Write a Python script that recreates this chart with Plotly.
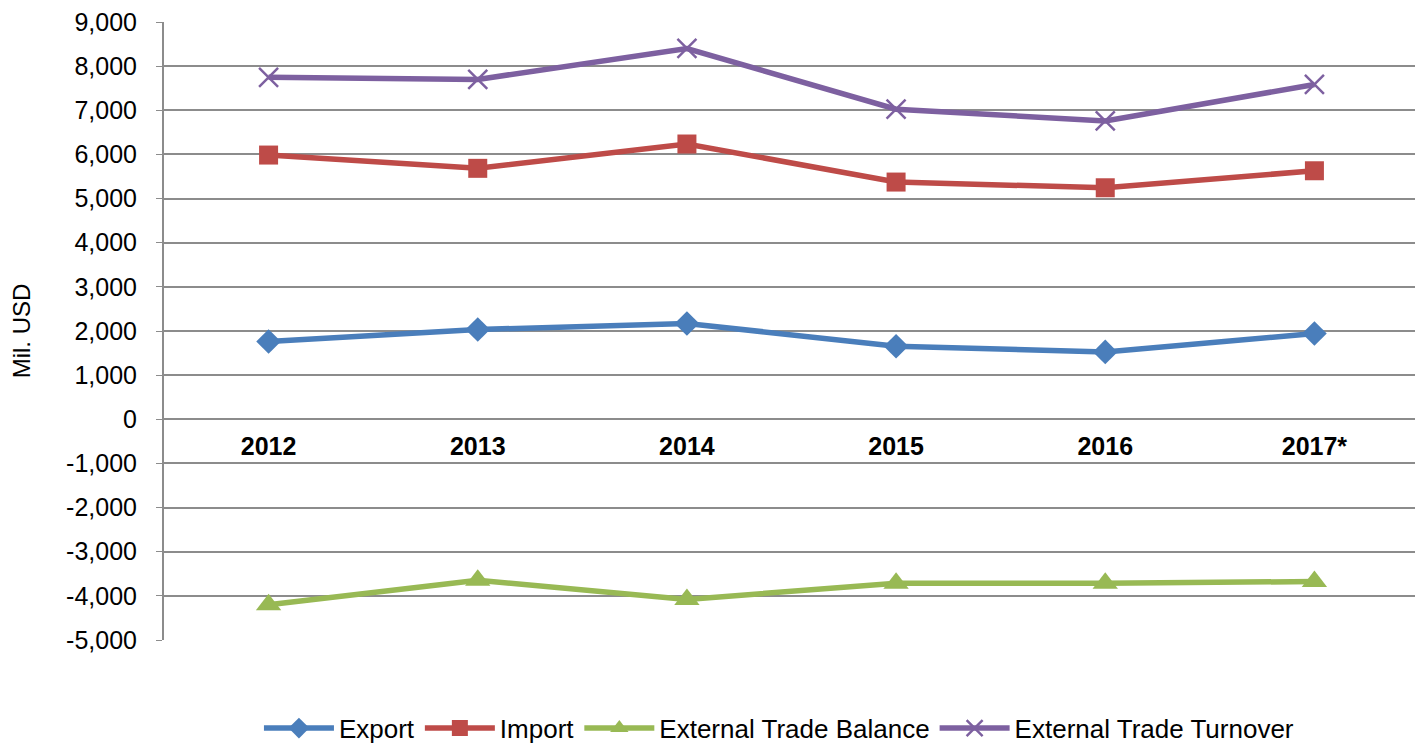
import plotly.graph_objects as go

years = ["2012", "2013", "2014", "2015", "2016", "2017*"]
export_vals = [1762, 2034, 2170, 1655, 1526, 1943]
import_vals = [5986, 5685, 6236, 5374, 5245, 5630]
balance_vals = [-4200, -3645, -4080, -3715, -3715, -3675]
turnover_vals = [7748, 7700, 8400, 7025, 6760, 7585]
y_ticks = list(range(-5000, 9001, 1000))
y_tick_labels = [f"{v:,}" for v in y_ticks]

FONT = "Liberation Sans, Arial, sans-serif"

series = [
    ("Export", export_vals, "#4A7EBB", dict(symbol="diamond", size=19)),
    ("Import", import_vals, "#BE4B48", dict(symbol="square", size=19)),
    ("External Trade Balance", balance_vals, "#98B954", dict(symbol="triangle-up", size=22)),
    ("External Trade Turnover", turnover_vals, "#7D60A0",
     dict(symbol="x-thin", size=19, line=dict(width=2.5, color="#7D60A0"))),
]

fig = go.Figure()
for name, vals, color, mk in series:
    fig.add_trace(go.Scatter(
        x=years, y=vals, name=name, mode="lines+markers",
        line=dict(color=color, width=5.5),
        marker=dict(color=color, **mk),
    ))

fig.update_layout(
    width=1423, height=744,
    margin=dict(l=156, r=12, t=14, b=112),
    paper_bgcolor="white", plot_bgcolor="white",
    font=dict(family=FONT, size=25, color="black"),
    showlegend=True,
    legend=dict(orientation="h", x=0.49, xanchor="center",
                yref="container", y=0.032, yanchor="middle",
                font=dict(size=26), itemwidth=70, tracegroupgap=0),
)
fig.update_xaxes(
    type="category", range=[-0.5, 5.5],
    anchor="free", position=5000 / 14000,
    showgrid=False, showline=False, ticks="",
    tickfont=dict(size=25, family=FONT, color="black", weight="bold"),
    ticklabelstandoff=10, automargin=False,
)
fig.update_yaxes(
    range=[-5000, 9000], tickvals=y_ticks, ticktext=y_tick_labels,
    showgrid=True, gridcolor="#8C8C8C", gridwidth=1.5,
    zeroline=True, zerolinecolor="#8C8C8C", zerolinewidth=1.5,
    showline=True, linecolor="#8C8C8C", linewidth=2,
    ticks="outside", ticklen=6, tickcolor="#8C8C8C",
    tickfont=dict(size=25), ticklabelstandoff=14, ticklabeloverflow="allow",
    title=dict(text="Mil. USD", font=dict(size=24), standoff=40),
    automargin=False,
)

fig.write_html("out.html")
